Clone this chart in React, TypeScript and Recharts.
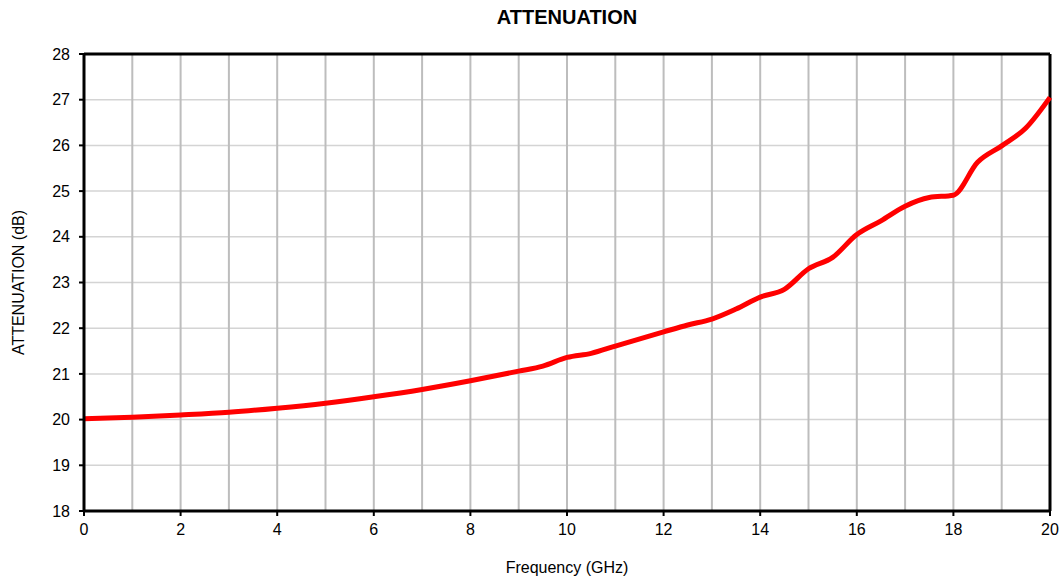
import React from 'react';
import {
  LineChart,
  Line,
  XAxis,
  YAxis,
  CartesianGrid,
  ReferenceLine,
} from 'recharts';

const freq = [0, 1, 2, 3, 4, 5, 6, 7, 8, 9, 9.5, 10, 10.5, 11, 12, 12.5, 13, 13.5, 14, 14.5, 15, 15.5, 16, 16.5, 17, 17.5, 18, 18.5, 19, 19.5, 20];
const atten = [20.02, 20.05, 20.1, 20.16, 20.25, 20.36, 20.5, 20.66, 20.85, 21.06, 21.17, 21.36, 21.45, 21.61, 21.92, 22.07, 22.2, 22.42, 22.68, 22.85, 23.3, 23.55, 24.05, 24.35, 24.67, 24.86, 24.91, 25.63, 25.99, 26.38, 27.05];

const xTicks = [0, 2, 4, 6, 8, 10, 12, 14, 16, 18, 20];
const yTicks = [18, 19, 20, 21, 22, 23, 24, 25, 26, 27, 28];
const xGrid = [1, 2, 3, 4, 5, 6, 7, 8, 9, 10, 11, 12, 13, 14, 15, 16, 17, 18, 19];

const data = freq.map((f, i) => ({ f, a: atten[i] }));

const font = '"Liberation Sans", Arial, sans-serif';

export default function App() {
  return (
    <div style={{ position: 'absolute', left: 0, top: 0, fontFamily: font }}>
      <LineChart
        width={1063}
        height={579}
        data={data}
        margin={{ top: 54, right: 13, left: 0, bottom: 0 }}
      >
        <text x={567} y={24} textAnchor="middle" fontSize={20} fontWeight="bold" fill="#000" fontFamily={font}>
          ATTENUATION
        </text>
        <CartesianGrid vertical={false} stroke="#d4d4d4" strokeWidth={1.5} />
        {xGrid.map((x) => (
          <ReferenceLine key={x} x={x} stroke="#bdbdbd" strokeWidth={2} />
        ))}
        <ReferenceLine y={28} stroke="#000" strokeWidth={3} />
        <ReferenceLine x={20} stroke="#000" strokeWidth={3} />
        <XAxis
          dataKey="f"
          type="number"
          domain={[0, 20]}
          ticks={xTicks}
          height={68}
          tickSize={5}
          tickMargin={8}
          axisLine={{ stroke: '#000', strokeWidth: 3 }}
          tickLine={{ stroke: '#000', strokeWidth: 2 }}
          tick={{ fill: '#000', fontSize: 16, fontFamily: font }}
          label={{ value: 'Frequency (GHz)', position: 'insideBottom', offset: 6, fill: '#000', fontSize: 16, fontFamily: font }}
        />
        <YAxis
          type="number"
          domain={[18, 28]}
          ticks={yTicks}
          width={84}
          tickSize={5}
          tickMargin={9}
          interval={0}
          axisLine={{ stroke: '#000', strokeWidth: 3 }}
          tickLine={{ stroke: '#000', strokeWidth: 2 }}
          tick={{ fill: '#000', fontSize: 16, fontFamily: font }}
          label={{ value: 'ATTENUATION (dB)', angle: -90, position: 'insideLeft', offset: 18, fill: '#000', fontSize: 16, fontFamily: font, style: { textAnchor: 'middle' } }}
        />
        <Line
          dataKey="a"
          type="monotone"
          stroke="#ff0000"
          strokeWidth={5}
          dot={false}
          isAnimationActive={false}
        />
      </LineChart>
    </div>
  );
}
